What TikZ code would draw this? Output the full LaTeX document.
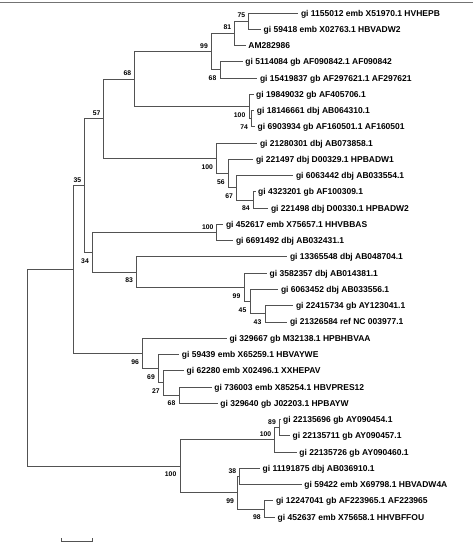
\documentclass[tikz,border=0pt]{standalone}
\usepackage{fontspec}
\setmainfont{Liberation Sans}
\begin{document}
\begin{tikzpicture}[x=1pt,y=-1pt,
  edge/.style={draw=black!68, line width=0.85pt},
  frame/.style={draw=black!55, line width=0.8pt},
  leaf/.style={anchor=west, inner sep=0pt, xshift=2.5pt, font=\fontsize{8.5}{10}\selectfont\bfseries, text height=6.1pt, text depth=0pt},
  bsa/.style={anchor=south east, inner sep=0pt, xshift=-3pt, yshift=3.2pt, font=\fontsize{6.8}{8}\selectfont\bfseries, text height=4.9pt, text depth=0pt},
  bsb/.style={anchor=north east, inner sep=0pt, xshift=-3.5pt, yshift=-5.6pt, font=\fontsize{6.8}{8}\selectfont\bfseries, text height=4.9pt, text depth=0pt}]
\useasboundingbox (0,0) rectangle (476,543);
% top frame line
\coordinate (fl) at (0,2.5);
\coordinate (fr) at (473,2.5);
\draw[frame] (fl) -- (fr);
% leaves
\coordinate (l1) at (298.3,13.00);
\coordinate (l2) at (261.0,29.26);
\coordinate (l3) at (245.7,45.52);
\coordinate (l4) at (242.7,61.78);
\coordinate (l5) at (257.3,78.04);
\coordinate (l6) at (253.5,94.30);
\coordinate (l7) at (254.2,110.56);
\coordinate (l8) at (255.0,126.82);
\coordinate (l9) at (257.3,143.08);
\coordinate (l10) at (253.3,159.34);
\coordinate (l11) at (293.3,175.60);
\coordinate (l12) at (255.5,191.86);
\coordinate (l13) at (268.3,208.12);
\coordinate (l14) at (223.3,224.38);
\coordinate (l15) at (233.3,240.64);
\coordinate (l16) at (287.3,256.90);
\coordinate (l17) at (267.0,273.16);
\coordinate (l18) at (278.3,289.42);
\coordinate (l19) at (293.3,305.68);
\coordinate (l20) at (287.3,321.94);
\coordinate (l21) at (226.8,338.20);
\coordinate (l22) at (179.2,354.46);
\coordinate (l23) at (184.0,370.72);
\coordinate (l24) at (211.7,386.98);
\coordinate (l25) at (217.7,403.24);
\coordinate (l26) at (280.5,419.50);
\coordinate (l27) at (290.0,435.76);
\coordinate (l28) at (296.7,452.02);
\coordinate (l29) at (260.0,468.28);
\coordinate (l30) at (301.7,484.54);
\coordinate (l31) at (273.3,500.80);
\coordinate (l32) at (275.0,517.06);
\node[leaf] (t1) at (l1) {gi 1155012 emb X51970.1 HVHEPB};
\node[leaf] (t2) at (l2) {gi 59418 emb X02763.1 HBVADW2};
\node[leaf] (t3) at (l3) {AM282986};
\node[leaf] (t4) at (l4) {gi 5114084 gb AF090842.1 AF090842};
\node[leaf] (t5) at (l5) {gi 15419837 gb AF297621.1 AF297621};
\node[leaf] (t6) at (l6) {gi 19849032 gb AF405706.1};
\node[leaf] (t7) at (l7) {gi 18146661 dbj AB064310.1};
\node[leaf] (t8) at (l8) {gi 6903934 gb AF160501.1 AF160501};
\node[leaf] (t9) at (l9) {gi 21280301 dbj AB073858.1};
\node[leaf] (t10) at (l10) {gi 221497 dbj D00329.1 HPBADW1};
\node[leaf] (t11) at (l11) {gi 6063442 dbj AB033554.1};
\node[leaf] (t12) at (l12) {gi 4323201 gb AF100309.1};
\node[leaf] (t13) at (l13) {gi 221498 dbj D00330.1 HPBADW2};
\node[leaf] (t14) at (l14) {gi 452617 emb X75657.1 HHVBBAS};
\node[leaf] (t15) at (l15) {gi 6691492 dbj AB032431.1};
\node[leaf] (t16) at (l16) {gi 13365548 dbj AB048704.1};
\node[leaf] (t17) at (l17) {gi 3582357 dbj AB014381.1};
\node[leaf] (t18) at (l18) {gi 6063452 dbj AB033556.1};
\node[leaf] (t19) at (l19) {gi 22415734 gb AY123041.1};
\node[leaf] (t20) at (l20) {gi 21326584 ref NC 003977.1};
\node[leaf] (t21) at (l21) {gi 329667 gb M32138.1 HPBHBVAA};
\node[leaf] (t22) at (l22) {gi 59439 emb X65259.1 HBVAYWE};
\node[leaf] (t23) at (l23) {gi 62280 emb X02496.1 XXHEPAV};
\node[leaf] (t24) at (l24) {gi 736003 emb X85254.1 HBVPRES12};
\node[leaf] (t25) at (l25) {gi 329640 gb J02203.1 HPBAYW};
\node[leaf] (t26) at (l26) {gi 22135696 gb AY090454.1};
\node[leaf] (t27) at (l27) {gi 22135711 gb AY090457.1};
\node[leaf] (t28) at (l28) {gi 22135726 gb AY090460.1};
\node[leaf] (t29) at (l29) {gi 11191875 dbj AB036910.1};
\node[leaf] (t30) at (l30) {gi 59422 emb X69798.1 HBVADW4A};
\node[leaf] (t31) at (l31) {gi 12247041 gb AF223965.1 AF223965};
\node[leaf] (t32) at (l32) {gi 452637 emb X75658.1 HHVBFFOU};
% internal nodes
\coordinate (root) at (27.7,367.87);
\coordinate (nA) at (73.3,269.48);
\coordinate (n35) at (84.3,185.51);
\coordinate (n57) at (103.7,118.69);
\coordinate (n68) at (134.3,79.06);
\coordinate (n99) at (211.0,51.62);
\coordinate (n81) at (234.3,33.33);
\coordinate (n75) at (248.3,21.13);
\coordinate (n68b) at (220.0,69.91);
\coordinate (n100g) at (249.0,106.50);
\coordinate (n74) at (251.7,118.69);
\coordinate (n100a) at (216.7,158.32);
\coordinate (n56) at (228.3,173.57);
\coordinate (n67) at (236.7,187.80);
\coordinate (n84) at (253.3,199.99);
\coordinate (n34) at (92.5,252.33);
\coordinate (n100c) at (216.7,232.51);
\coordinate (n83) at (136.7,272.15);
\coordinate (n99c) at (244.0,287.39);
\coordinate (n45) at (250.0,301.62);
\coordinate (n43) at (265.0,313.81);
\coordinate (n96) at (142.7,353.45);
\coordinate (n69) at (158.5,368.69);
\coordinate (n27) at (163.3,382.92);
\coordinate (n68c) at (179.0,395.11);
\coordinate (n100b) at (180.0,466.25);
\coordinate (n100d) at (274.3,439.83);
\coordinate (n89) at (279.0,427.63);
\coordinate (n99d) at (237.7,492.67);
\coordinate (n38) at (239.3,476.41);
\coordinate (n98) at (264.3,508.93);
% branches
\foreach \p/\c in {root/nA, root/n100b, nA/n35, nA/n96, n35/n57, n35/n34,
  n57/n68, n57/n100a, n68/n99, n68/n100g, n99/n81, n99/n68b, n81/n75, n81/l3,
  n75/l1, n75/l2, n68b/l4, n68b/l5, n100g/l6, n100g/n74, n74/l7, n74/l8,
  n100a/l9, n100a/n56, n56/l10, n56/n67, n67/l11, n67/n84, n84/l12, n84/l13,
  n34/n100c, n34/n83, n100c/l14, n100c/l15, n83/l16, n83/n99c, n99c/l17, n99c/n45,
  n45/l18, n45/n43, n43/l19, n43/l20, n96/l21, n96/n69, n69/l22, n69/n27,
  n27/l23, n27/n68c, n68c/l24, n68c/l25, n100b/n100d, n100b/n99d, n100d/n89,
  n100d/l28, n89/l26, n89/l27, n99d/n38, n99d/n98, n38/l29, n38/l30, n98/l31, n98/l32}
  \draw[edge] (\p) |- (\c);
% bootstrap values
\node[bsa] (b75) at (n75) {75};
\node[bsa] (b81) at (n81) {81};
\node[bsa] (b99) at (n99) {99};
\node[bsb] (b68b) at (n68b) {68};
\node[bsa] (b68) at (n68) {68};
\node[bsb] (b100g) at (n100g) {100};
\node[bsb] (b74) at (n74) {74};
\node[bsa] (b57) at (n57) {57};
\node[bsb] (b100a) at (n100a) {100};
\node[bsb] (b56) at (n56) {56};
\node[bsb] (b67) at (n67) {67};
\node[bsb] (b84) at (n84) {84};
\node[bsa] (b35) at (n35) {35};
\node[bsb] (b34) at (n34) {34};
\node[bsa] (b100c) at (n100c) {100};
\node[bsb] (b83) at (n83) {83};
\node[bsb] (b99c) at (n99c) {99};
\node[bsb] (b45) at (n45) {45};
\node[bsb] (b43) at (n43) {43};
\node[bsb] (b96) at (n96) {96};
\node[bsb] (b69) at (n69) {69};
\node[bsb] (b27) at (n27) {27};
\node[bsb] (b68c) at (n68c) {68};
\node[bsb] (b100b) at (n100b) {100};
\node[bsa] (b100d) at (n100d) {100};
\node[bsa] (b89) at (n89) {89};
\node[bsb] (b99d) at (n99d) {99};
\node[bsa] (b38) at (n38) {38};
\node[bsb] (b98) at (n98) {98};
% scale bar
\coordinate (sa) at (61.7,541.3);
\coordinate (sb) at (92.3,541.3);
\draw[edge] ([yshift=3pt]sa) -- (sa) -- (sb) -- ([yshift=3pt]sb);
\end{tikzpicture}
\end{document}
